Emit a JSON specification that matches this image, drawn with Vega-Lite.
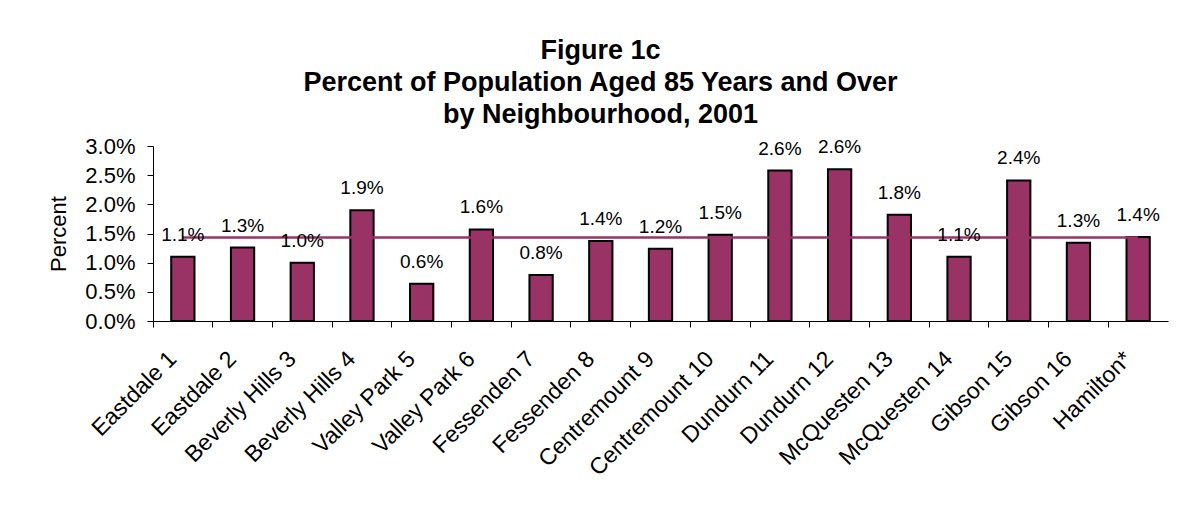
{
  "$schema": "https://vega.github.io/schema/vega-lite/v6.json",
  "autosize": {"type": "none"},
  "width": 1015,
  "height": 175,
  "padding": {"left": 153, "top": 146, "right": 24, "bottom": 191},
  "background": "white",
  "title": {
    "text": ["Figure 1c", "Percent of Population Aged 85 Years and Over", "by Neighbourhood, 2001"],
    "font": "Liberation Sans",
    "fontSize": 27,
    "fontWeight": "bold",
    "lineHeight": 32,
    "color": "black",
    "anchor": "middle",
    "dx": -60,
    "offset": 6
  },
  "data": {
    "values": [
      {"area": "Eastdale 1", "pct": 0.0110, "hamilton": 0.0143},
      {"area": "Eastdale 2", "pct": 0.0126, "hamilton": 0.0143},
      {"area": "Beverly Hills 3", "pct": 0.0100, "hamilton": 0.0143},
      {"area": "Beverly Hills 4", "pct": 0.0190, "hamilton": 0.0143},
      {"area": "Valley Park 5", "pct": 0.0064, "hamilton": 0.0143},
      {"area": "Valley Park 6", "pct": 0.0157, "hamilton": 0.0143},
      {"area": "Fessenden 7", "pct": 0.0079, "hamilton": 0.0143},
      {"area": "Fessenden 8", "pct": 0.0137, "hamilton": 0.0143},
      {"area": "Centremount 9", "pct": 0.0124, "hamilton": 0.0143},
      {"area": "Centremount 10", "pct": 0.0148, "hamilton": 0.0143},
      {"area": "Dundurn 11", "pct": 0.0258, "hamilton": 0.0143},
      {"area": "Dundurn 12", "pct": 0.0260, "hamilton": 0.0143},
      {"area": "McQuesten 13", "pct": 0.0182, "hamilton": 0.0143},
      {"area": "McQuesten 14", "pct": 0.0110, "hamilton": 0.0143},
      {"area": "Gibson 15", "pct": 0.0241, "hamilton": 0.0143},
      {"area": "Gibson 16", "pct": 0.0134, "hamilton": 0.0143},
      {"area": "Hamilton*", "pct": 0.0144, "hamilton": 0.0143}
    ]
  },
  "encoding": {
    "x": {
      "field": "area",
      "type": "nominal",
      "sort": null,
      "scale": {"paddingInner": 0, "paddingOuter": 0},
      "axis": {
        "title": null,
        "labelAngle": -45,
        "labelAlign": "right",
        "labelBaseline": "middle",
        "labelFontSize": 23,
        "labelColor": "black",
        "labelOverlap": false,
        "bandPosition": 0,
        "labelOffset": -10,
        "labelPadding": 28,
        "tickSize": 6,
        "tickColor": "black",
        "domainColor": "black"
      }
    }
  },
  "layer": [
    {
      "mark": {"type": "bar", "color": "#993366", "stroke": "black", "strokeWidth": 2, "width": {"band": 0.39}},
      "encoding": {
        "y": {
          "field": "pct",
          "type": "quantitative",
          "scale": {"domain": [0, 0.03], "nice": false},
          "axis": {"title": "Percent", "format": ".1%", "values": [0, 0.005, 0.01, 0.015, 0.02, 0.025, 0.03]}
        }
      }
    },
    {
      "mark": {"type": "line", "color": "#993366", "strokeWidth": 2.5},
      "encoding": {
        "y": {
          "field": "hamilton",
          "type": "quantitative",
          "axis": {"title": "Percent", "format": ".1%", "values": [0, 0.005, 0.01, 0.015, 0.02, 0.025, 0.03]}
        }
      }
    },
    {
      "mark": {"type": "text", "baseline": "alphabetic", "dy": -16, "fontSize": 19, "color": "black"},
      "encoding": {
        "y": {
          "field": "pct",
          "type": "quantitative",
          "axis": {"title": "Percent", "format": ".1%", "values": [0, 0.005, 0.01, 0.015, 0.02, 0.025, 0.03]}
        },
        "text": {"field": "pct", "type": "quantitative", "format": ".1%"}
      }
    }
  ],
  "config": {
    "font": "Liberation Sans",
    "view": {"stroke": null},
    "axis": {"labelFont": "Liberation Sans", "titleFont": "Liberation Sans"},
    "axisY": {
      "grid": false,
      "labelOverlap": false,
      "labelFontSize": 22,
      "labelColor": "black",
      "labelPadding": 12,
      "tickSize": 6,
      "tickColor": "black",
      "domainColor": "black",
      "titleFontSize": 22,
      "titleFontWeight": "normal",
      "titleColor": "black",
      "titlePadding": 14
    },
    "text": {"font": "Liberation Sans"}
  }
}
